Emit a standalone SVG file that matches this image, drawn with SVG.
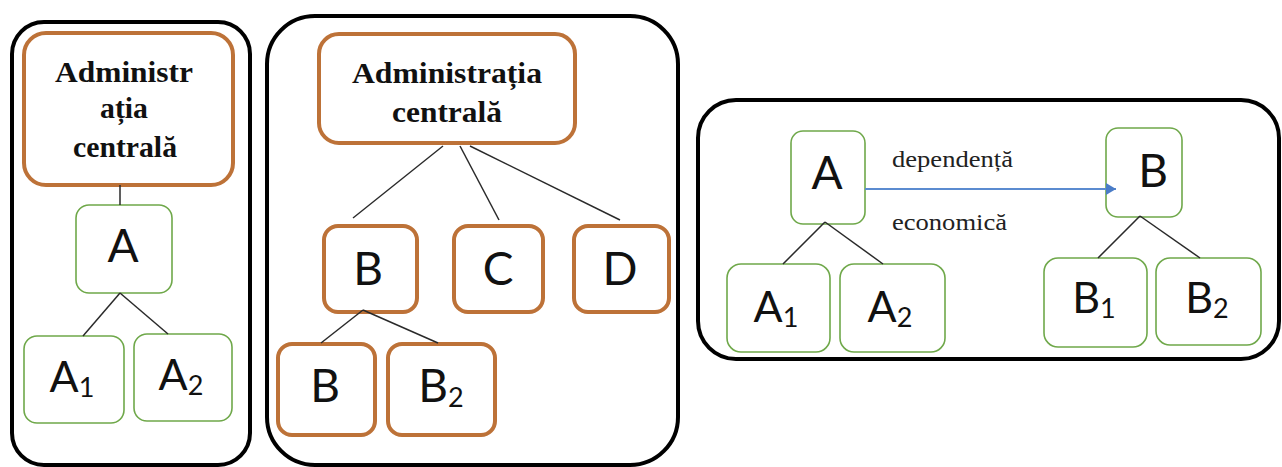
<svg xmlns="http://www.w3.org/2000/svg" width="1282" height="467" viewBox="0 0 1282 467">
<style>
.panel{fill:none;stroke:#000;stroke-width:4}
.org{fill:#fff;stroke:#BD7238;stroke-width:4}
.grn{fill:#fff;stroke:#6FA84A;stroke-width:1.6}
.conn{stroke:#2a2a2a;stroke-width:1.5;fill:none}
.ser{font-family:"Liberation Serif","Times New Roman",serif;font-weight:bold;font-size:29px;fill:#111;text-anchor:middle}
.lbl{font-family:"Liberation Serif","Times New Roman",serif;font-size:23px;fill:#222}
.big{font-family:Lato,"Liberation Sans",sans-serif;font-size:46px;fill:#111;text-anchor:middle}
.mid{font-family:Lato,"Liberation Sans",sans-serif;font-size:43px;fill:#111;text-anchor:middle}
.sub{font-size:27px}
</style>
<defs>
<marker id="arr" markerWidth="10" markerHeight="12" refX="10" refY="6" orient="auto" markerUnits="userSpaceOnUse" viewBox="0 0 10 12">
<path d="M0,0 L10,6 L0,12 Z" fill="#4A7CC7"/>
</marker>
</defs>

<!-- panels -->
<g id="panel1"><rect class="panel" x="12" y="22" width="238" height="443" rx="32"/></g>
<g id="panel2"><rect class="panel" x="267" y="16" width="411" height="449" rx="48"/></g>
<g id="panel3"><rect class="panel" x="698" y="100" width="581" height="259" rx="38"/></g>

<!-- panel 1 nodes -->
<g id="p1-admin">
<rect class="org" x="24" y="33" width="209" height="152" rx="22"/>
<text class="ser" x="124" y="82" textLength="138" lengthAdjust="spacingAndGlyphs">Administr</text>
<text class="ser" x="124" y="118" textLength="48" lengthAdjust="spacingAndGlyphs">ația</text>
<text class="ser" x="125" y="157" textLength="104" lengthAdjust="spacingAndGlyphs">centrală</text>
</g>
<g id="p1-A"><rect class="grn" x="76" y="205" width="96" height="88" rx="13"/><text class="big" x="123" y="262">A</text></g>
<g id="p1-A1"><rect class="grn" x="24" y="336" width="100" height="87" rx="13"/><text class="mid" x="72" y="392">A<tspan class="sub" dy="5">1</tspan></text></g>
<g id="p1-A2"><rect class="grn" x="134" y="334" width="98" height="87" rx="13"/><text class="mid" x="181" y="390">A<tspan class="sub" dy="5">2</tspan></text></g>

<!-- panel 2 nodes -->
<g id="p2-admin">
<rect class="org" x="319" y="34" width="256" height="109" rx="20"/>
<text class="ser" x="447" y="83" textLength="190" lengthAdjust="spacingAndGlyphs">Administrația</text>
<text class="ser" x="447" y="122" textLength="110" lengthAdjust="spacingAndGlyphs">centrală</text>
</g>
<g id="p2-B"><rect class="org" x="324" y="226" width="93" height="86" rx="14"/><text class="big" x="368" y="285">B</text></g>
<g id="p2-C"><rect class="org" x="454" y="226" width="89" height="86" rx="14"/><text class="big" x="498" y="285">C</text></g>
<g id="p2-D"><rect class="org" x="574" y="226" width="95" height="86" rx="14"/><text class="big" x="620" y="285">D</text></g>
<g id="p2-B1"><rect class="org" x="278" y="344" width="97" height="91" rx="14"/><text class="big" x="325" y="402">B</text></g>
<g id="p2-B2"><rect class="org" x="388" y="344" width="107" height="91" rx="14"/><text class="big" x="441" y="402">B<tspan class="sub" dy="5">2</tspan></text></g>

<!-- panel 3 nodes -->
<g id="p3-A"><rect class="grn" x="791" y="131" width="74" height="93" rx="12"/><text class="big" x="827" y="189">A</text></g>
<g id="p3-label">
<text class="lbl" x="892" y="167" textLength="121" lengthAdjust="spacingAndGlyphs">dependență</text>
<text class="lbl" x="892" y="230" textLength="115" lengthAdjust="spacingAndGlyphs">economică</text>
</g>
<g id="p3-B"><rect class="grn" x="1106" y="128" width="76" height="89" rx="12"/><text class="big" x="1153" y="187">B</text></g>
<g id="p3-A1"><rect class="grn" x="727" y="264" width="103" height="88" rx="14"/><text class="mid" x="776" y="322">A<tspan class="sub" dy="5">1</tspan></text></g>
<g id="p3-A2"><rect class="grn" x="840" y="264" width="105" height="88" rx="14"/><text class="mid" x="890" y="322">A<tspan class="sub" dy="5">2</tspan></text></g>
<g id="p3-B1"><rect class="grn" x="1044" y="258" width="103" height="89" rx="14"/><text class="mid" x="1094" y="313">B<tspan class="sub" dy="5">1</tspan></text></g>
<g id="p3-B2"><rect class="grn" x="1156" y="258" width="105" height="87" rx="14"/><text class="mid" x="1207" y="313">B<tspan class="sub" dy="5">2</tspan></text></g>

<!-- connectors -->
<g id="connectors">
<line class="conn" x1="120" y1="185" x2="120" y2="205"/>
<line class="conn" x1="120" y1="293" x2="83" y2="336"/>
<line class="conn" x1="120" y1="293" x2="168" y2="334"/>
<line class="conn" x1="443" y1="146" x2="353" y2="218"/>
<line class="conn" x1="460" y1="146" x2="499" y2="220"/>
<line class="conn" x1="470" y1="146" x2="620" y2="220"/>
<line class="conn" x1="363" y1="310" x2="321" y2="343"/>
<line class="conn" x1="363" y1="310" x2="438" y2="343"/>
<line class="conn" x1="825" y1="222" x2="783" y2="264"/>
<line class="conn" x1="825" y1="222" x2="883" y2="264"/>
<line class="conn" x1="1140" y1="216" x2="1098" y2="258"/>
<line class="conn" x1="1140" y1="216" x2="1200" y2="258"/>
<line x1="865" y1="189" x2="1116" y2="189" stroke="#5B8BD0" stroke-width="2" marker-end="url(#arr)"/>
</g>
</svg>
